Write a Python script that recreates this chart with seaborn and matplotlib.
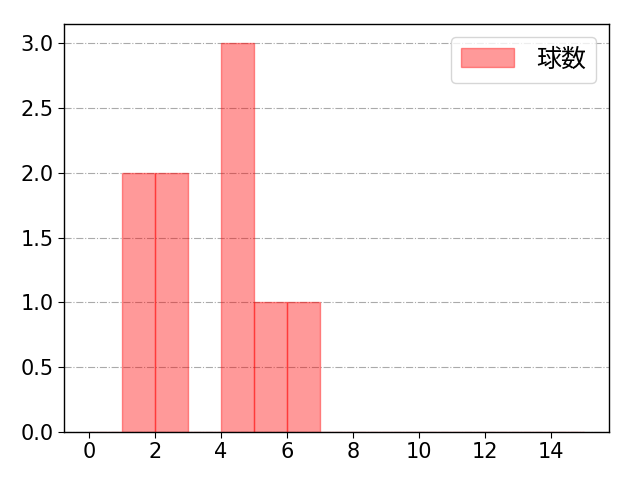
import pandas as pd
import seaborn as sns
import matplotlib.pyplot as plt

# 球数データ (各打席の球数)
pitches = [1, 1, 2, 2, 4, 4, 4, 5, 6]
bin_edges = list(range(0, 16))
label = '球数'

sns.set_style('white')
plt.rcParams['font.family'] = ['Noto Sans CJK JP', 'DejaVu Sans']
plt.rcParams['text.color'] = 'black'

df = pd.DataFrame({label: pitches})

fig, ax = plt.subplots(figsize=(6.4, 4.8), dpi=100)
sns.histplot(data=df, x=label, bins=bin_edges, stat='count',
             facecolor=(1, 0, 0, 0.4), edgecolor=(1, 0, 0, 0.4),
             linewidth=1, label=label, ax=ax)

ax.grid(axis='y', linestyle='-.', color='#aaaaaa', linewidth=0.8)
ax.set_xlabel('')
ax.set_ylabel('')
ax.set_xticks(range(0, 16, 2))
ax.tick_params(axis='both', labelsize=15, direction='out', length=4,
               left=True, bottom=True, color='black', labelcolor='black')
for t in ax.get_xticklabels() + ax.get_yticklabels():
    t.set_family('DejaVu Sans')
for s in ax.spines.values():
    s.set_color('black')
    s.set_linewidth(1)

ax.legend(fontsize=18, loc='upper right', handlelength=2.1,
          handleheight=0.8, handletextpad=0.9)

fig.subplots_adjust(left=0.1, right=0.951, top=0.95, bottom=0.1)
plt.savefig('out.png')
plt.close()
